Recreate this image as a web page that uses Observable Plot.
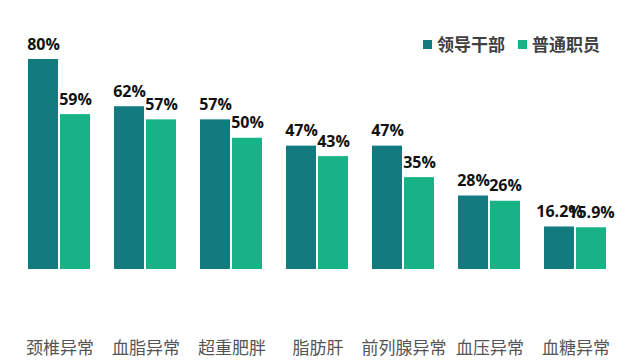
<!DOCTYPE html>
<html>
<head>
<meta charset="utf-8">
<script src="https://cdn.jsdelivr.net/npm/d3@7"></script>
<script src="https://cdn.jsdelivr.net/npm/@observablehq/plot@0.6"></script>
<style>
  html, body { margin: 0; padding: 0; background: #fff; }
  #wrap { position: relative; width: 640px; height: 364px; overflow: hidden; }
  #legend { position: absolute; top: 33px; left: 423px; display: flex; align-items: center;
    font-family: "Noto Sans CJK SC", sans-serif; font-weight: bold; font-size: 17px; color: #404040; }
  #legend .sw { width: 9px; height: 9px; display: inline-block; margin-right: 5px; }
  #legend .item { display: flex; align-items: center; margin-right: 13px; line-height: 22px; }
</style>
</head>
<body>
<div id="wrap"></div>
<script>
const categories = ["颈椎异常", "血脂异常", "超重肥胖", "脂肪肝", "前列腺异常", "血压异常", "血糖异常"];
const seriesNames = ["领导干部", "普通职员"];
const leaders = [80, 62, 57, 47, 47, 28, 16.2];
const staff = [59, 57, 50, 43, 35, 26, 15.9];
const colors = ["#137b80", "#17b286"];

const data = [];
categories.forEach((c, i) => {
  data.push({category: c, series: seriesNames[0], value: leaders[i]});
  data.push({category: c, series: seriesNames[1], value: staff[i]});
});

const chart = Plot.plot({
  width: 640,
  height: 364,
  marginTop: 59,
  marginBottom: 95,
  marginLeft: 2,
  marginRight: 7,
  style: {fontFamily: "'Open Sans', 'Noto Sans CJK SC', sans-serif", background: "transparent"},
  fx: {domain: categories, paddingInner: 0.273, paddingOuter: 0.273, label: null},
  x: {domain: seriesNames, paddingInner: 0.06, paddingOuter: 0, axis: null},
  y: {domain: [0, 80], axis: null},
  color: {domain: seriesNames, range: colors},
  marks: [
    Plot.barY(data, {fx: "category", x: "series", y: "value", fill: "series"}),
    Plot.text(data, {fx: "category", x: "series", y: "value", text: d => d.value + "%",
      lineAnchor: "bottom", dy: -10, fontSize: 16, fontWeight: "bold", fill: "#111",
      fontFamily: "'Open Sans', sans-serif"}),
    Plot.axisFx({anchor: "bottom", tickSize: 0, tickPadding: 72, fontSize: 17, fill: "#555",
      fontFamily: "'Noto Sans CJK SC', sans-serif", label: null})
  ]
});

const wrap = document.getElementById("wrap");
wrap.appendChild(chart);

const legend = document.createElement("div");
legend.id = "legend";
seriesNames.forEach((s, i) => {
  const item = document.createElement("span");
  item.className = "item";
  const sw = document.createElement("span");
  sw.className = "sw";
  sw.style.background = colors[i];
  item.appendChild(sw);
  item.appendChild(document.createTextNode(s));
  legend.appendChild(item);
});
wrap.appendChild(legend);
</script>
</body>
</html>
